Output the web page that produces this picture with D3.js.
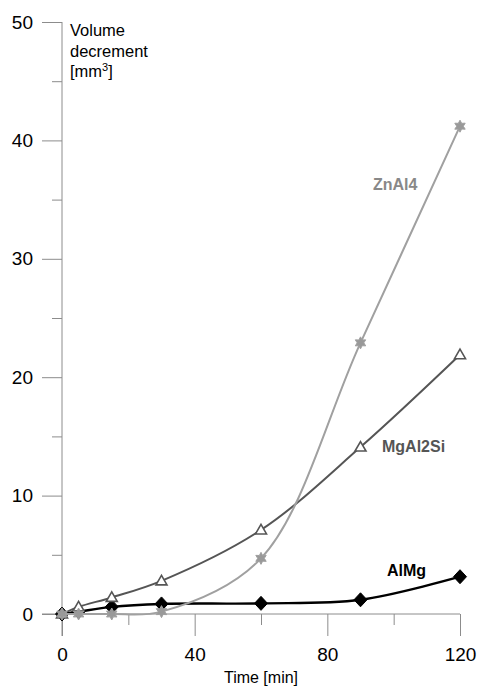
<!DOCTYPE html>
<html lang="en">
<head>
    <meta charset="UTF-8">
    <title>Volume decrement vs time</title>
    <style>
        body {
            margin: 0;
            background-color: #fff;
            font-family: Arial, "Liberation Sans", sans-serif;
        }
        .tick text {
            font-family: Arial, "Liberation Sans", sans-serif;
        }
    </style>
</head>
<body>
    <svg id="chart" width="477" height="686"></svg>
    <script src="https://d3js.org/d3.v7.min.js"></script>
    <script>
        // time points [min]
        const times = [0, 5, 15, 30, 60, 90, 120];

        // volume decrement [mm3] per alloy
        const alMg = [0, 0.2, 0.6, 0.85, 0.9, 1.2, 3.15];
        const mgAl2Si = [0, 0.6, 1.4, 2.8, 7.1, 14.1, 21.9];
        const znAl4 = [0, 0, 0, 0.2, 4.7, 22.9, 41.2];

        const xMajor = [0, 40, 80, 120];
        const xMinor = [20, 60, 100];
        const yMajor = [0, 10, 20, 30, 40, 50];
        const yMinor = [5, 15, 25, 35, 45];

        const svg = d3.select("#chart");
        const x = d3.scaleLinear().domain([0, 120]).range([62, 460]);
        const y = d3.scaleLinear().domain([0, 50]).range([614, 22]);

        const axisColor = "#8c8c8c";

        // y axis: ticks to the left, line runs a bit below zero
        const yAxis = svg.append("g").attr("transform", `translate(${x(0)},0)`);
        yAxis.call(d3.axisLeft(y).tickValues(yMajor).tickSize(20).tickPadding(9).tickFormat(d3.format("d")));
        yAxis.append("g").call(d3.axisLeft(y).tickValues(yMinor).tickSize(10).tickFormat(""));
        yAxis.selectAll(".domain").remove();
        yAxis.append("line")
            .attr("y1", y(50)).attr("y2", y(0) + 22)
            .attr("stroke", axisColor);

        // x axis: ticks downward
        const xAxis = svg.append("g").attr("transform", `translate(0,${y(0)})`);
        xAxis.call(d3.axisBottom(x).tickValues(xMajor).tickSize(22).tickPadding(12).tickFormat(d3.format("d")));
        xAxis.append("g").call(d3.axisBottom(x).tickValues(xMinor).tickSize(11).tickFormat(""));
        xAxis.selectAll(".domain").remove();
        xAxis.append("line")
            .attr("x1", x(0) - 20).attr("x2", x(120))
            .attr("stroke", axisColor);

        svg.selectAll(".tick line").attr("stroke", axisColor);
        svg.selectAll(".tick text")
            .attr("fill", "#000")
            .style("font-size", "19px");

        // axis titles
        const yTitle = svg.append("text")
            .attr("x", 70)
            .attr("y", 36)
            .style("font-size", "16.5px")
            .attr("fill", "#000");
        yTitle.append("tspan").attr("x", 70).text("Volume");
        yTitle.append("tspan").attr("x", 70).attr("dy", 20.5).text("decrement");
        yTitle.append("tspan").attr("x", 70).attr("dy", 20.5).text("[mm");
        yTitle.append("tspan").attr("dy", -6).style("font-size", "11px").text("3");
        yTitle.append("tspan").attr("dy", 6).text("]");

        svg.append("text")
            .attr("x", x(60))
            .attr("y", 683)
            .attr("text-anchor", "middle")
            .style("font-size", "16px")
            .text("Time [min]");

        const line = d3.line()
            .x(d => x(d[0]))
            .y(d => y(d[1]))
            .curve(d3.curveCatmullRom.alpha(0.5));

        const starPath = (r) => {
            const pts = [];
            for (let i = 0; i < 12; i++) {
                const a = Math.PI / 6 * i - Math.PI / 2;
                const rr = i % 2 === 0 ? r : r * 0.55;
                pts.push([rr * Math.cos(a), rr * Math.sin(a)]);
            }
            return "M" + pts.map(p => p.join(",")).join("L") + "Z";
        };

        const series = [
            {
                name: "AlMg", values: alMg, color: "#000", width: 2.4,
                marker: "M0,-7L6.5,0L0,7L-6.5,0Z", fill: "#000",
                label: [387, 576], labelColor: "#000"
            },
            {
                name: "MgAl2Si", values: mgAl2Si, color: "#555", width: 2,
                marker: "M0,-5.5L5.5,4L-5.5,4Z", fill: "#fff",
                label: [382, 452], labelColor: "#555"
            },
            {
                name: "ZnAl4", values: znAl4, color: "#a0a0a0", width: 2,
                marker: starPath(6), fill: "#999",
                label: [373, 190], labelColor: "#888"
            }
        ];

        series.forEach(s => {
            const pts = times.map((t, i) => [t, s.values[i]]);
            svg.append("path")
                .datum(pts)
                .attr("fill", "none")
                .attr("stroke", s.color)
                .attr("stroke-width", s.width)
                .attr("d", line);

            svg.append("g")
                .selectAll("path")
                .data(pts)
                .join("path")
                .attr("transform", d => `translate(${x(d[0])},${y(d[1])})`)
                .attr("d", s.marker)
                .attr("fill", s.fill)
                .attr("stroke", s.color)
                .attr("stroke-width", s.fill === "#fff" ? 1.6 : 1);

            svg.append("text")
                .attr("x", s.label[0])
                .attr("y", s.label[1])
                .attr("fill", s.labelColor)
                .style("font-size", "16px")
                .style("font-weight", "bold")
                .text(s.name);
        });
    </script>
</body>
</html>
